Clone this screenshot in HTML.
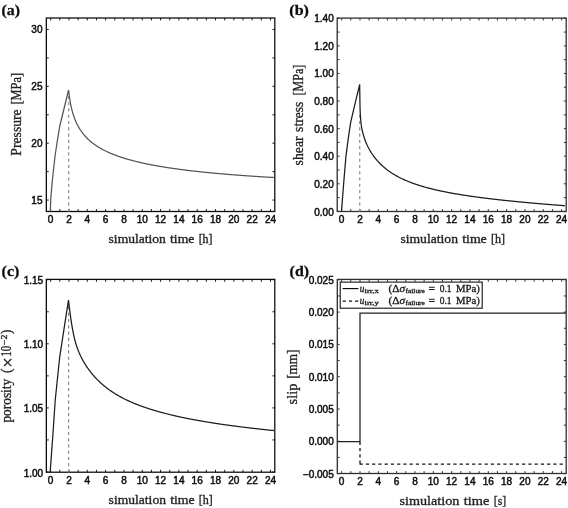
<!DOCTYPE html>
<html lang="en">
<head>
<meta charset="utf-8">
<title>Simulation results</title>
<style>
html,body{margin:0;padding:0;background:#fff}
body{width:568px;height:508px;overflow:hidden}
svg{display:block}
</style>
</head>
<body>
<svg width="568" height="508" viewBox="0 0 568 508">
<rect width="568" height="508" fill="#fff"/>
<defs><filter id="soft" x="0" y="0" width="568" height="508" filterUnits="userSpaceOnUse"><feGaussianBlur stdDeviation="0.32"/></filter></defs>
<g filter="url(#soft)">
<rect x="46.35" y="18" width="228.45" height="193.5" fill="none" stroke="#111" stroke-width="1.3"/>
<path d="M50.65,211.5v-2.4M50.65,18v2.4M59.81,211.5v-2.4M59.81,18v2.4M68.97,211.5v-2.4M68.97,18v2.4M78.13,211.5v-2.4M78.13,18v2.4M87.29,211.5v-2.4M87.29,18v2.4M96.45,211.5v-2.4M96.45,18v2.4M105.61,211.5v-2.4M105.61,18v2.4M114.77,211.5v-2.4M114.77,18v2.4M123.93,211.5v-2.4M123.93,18v2.4M133.09,211.5v-2.4M133.09,18v2.4M142.25,211.5v-2.4M142.25,18v2.4M151.41,211.5v-2.4M151.41,18v2.4M160.57,211.5v-2.4M160.57,18v2.4M169.73,211.5v-2.4M169.73,18v2.4M178.89,211.5v-2.4M178.89,18v2.4M188.05,211.5v-2.4M188.05,18v2.4M197.21,211.5v-2.4M197.21,18v2.4M206.37,211.5v-2.4M206.37,18v2.4M215.53,211.5v-2.4M215.53,18v2.4M224.69,211.5v-2.4M224.69,18v2.4M233.85,211.5v-2.4M233.85,18v2.4M243.01,211.5v-2.4M243.01,18v2.4M252.17,211.5v-2.4M252.17,18v2.4M261.33,211.5v-2.4M261.33,18v2.4M270.49,211.5v-2.4M270.49,18v2.4M46.35,200.05h2.4M274.8,200.05h-2.4M46.35,171.62h2.4M274.8,171.62h-2.4M46.35,143.2h2.4M274.8,143.2h-2.4M46.35,114.77h2.4M274.8,114.77h-2.4M46.35,86.35h2.4M274.8,86.35h-2.4M46.35,57.92h2.4M274.8,57.92h-2.4M46.35,29.5h2.4M274.8,29.5h-2.4" stroke="#111" stroke-width="0.95" fill="none"/>
<g font-family='"Liberation Sans", Arial, Helvetica, sans-serif' font-size="10.4" fill="#111" stroke="#111" stroke-width="0.5">
<text x="47.86" y="222.8" textLength="5.59" lengthAdjust="spacingAndGlyphs">0</text>
<text x="66.18" y="222.8" textLength="5.59" lengthAdjust="spacingAndGlyphs">2</text>
<text x="84.5" y="222.8" textLength="5.59" lengthAdjust="spacingAndGlyphs">4</text>
<text x="102.82" y="222.8" textLength="5.59" lengthAdjust="spacingAndGlyphs">6</text>
<text x="121.14" y="222.8" textLength="5.59" lengthAdjust="spacingAndGlyphs">8</text>
<text x="136.66" y="222.8" textLength="11.18" lengthAdjust="spacingAndGlyphs">10</text>
<text x="154.98" y="222.8" textLength="11.18" lengthAdjust="spacingAndGlyphs">12</text>
<text x="173.3" y="222.8" textLength="11.18" lengthAdjust="spacingAndGlyphs">14</text>
<text x="191.62" y="222.8" textLength="11.18" lengthAdjust="spacingAndGlyphs">16</text>
<text x="209.94" y="222.8" textLength="11.18" lengthAdjust="spacingAndGlyphs">18</text>
<text x="228.26" y="222.8" textLength="11.18" lengthAdjust="spacingAndGlyphs">20</text>
<text x="246.58" y="222.8" textLength="11.18" lengthAdjust="spacingAndGlyphs">22</text>
<text x="264.9" y="222.8" textLength="11.18" lengthAdjust="spacingAndGlyphs">24</text>
</g>
<g font-family='"Liberation Sans", Arial, Helvetica, sans-serif' font-size="10.4" fill="#111" stroke="#111" stroke-width="0.5">
<text x="31.32" y="204" textLength="11.18" lengthAdjust="spacingAndGlyphs">15</text>
<text x="31.32" y="147.15" textLength="11.18" lengthAdjust="spacingAndGlyphs">20</text>
<text x="31.32" y="90.3" textLength="11.18" lengthAdjust="spacingAndGlyphs">25</text>
<text x="31.32" y="33.45" textLength="11.18" lengthAdjust="spacingAndGlyphs">30</text>
</g>
<line x1="68.7" y1="211.9" x2="68.7" y2="94" stroke="#858585" stroke-width="1.15" stroke-dasharray="3.1 3.17"/>
<polyline points="50.4,211.5 50.41,210.5 50.43,209.5 50.45,208.5 50.47,207.5 50.5,206.5 50.53,205.5 50.56,204.5 50.6,203.5 50.64,202.5 50.68,201.5 50.7,201 50.72,200.5 50.77,199.5 50.83,198.5 50.9,197.5 50.97,196.5 51.04,195.5 51.12,194.5 51.21,193.5 51.29,192.5 51.37,191.5 51.46,190.5 51.5,190 51.54,189.5 51.63,188.5 51.72,187.5 51.81,186.5 51.9,185.5 52,184.5 52.09,183.5 52.19,182.5 52.29,181.5 52.39,180.5 52.5,179.5 52.6,178.5 52.7,177.5 52.8,176.5 52.91,175.5 53.01,174.5 53.12,173.5 53.23,172.5 53.33,171.5 53.44,170.5 53.55,169.5 53.66,168.5 53.78,167.5 53.89,166.5 54,165.5 54.11,164.5 54.23,163.5 54.34,162.5 54.46,161.5 54.57,160.5 54.69,159.5 54.8,158.5 54.92,157.5 55.04,156.5 55.16,155.5 55.28,154.5 55.4,153.5 57.6,139.2 59.9,125.5 68.6,90 68.6,90 69.1,94.36 69.6,98.01 70.1,101.14 70.6,103.89 71.1,106.33 71.6,108.53 72.1,110.53 72.6,112.36 73.1,114.06 73.6,115.62 74.1,117.09 74.6,118.45 75.1,119.74 75.6,120.95 76.1,122.1 76.6,123.19 77.1,124.22 77.6,125.2 78.1,126.14 78.6,127.04 79.1,127.9 79.6,128.73 80.1,129.52 80.6,130.29 81.1,131.02 81.6,131.73 82.1,132.42 82.6,133.08 83.1,133.72 83.6,134.35 84.1,134.95 84.6,135.53 85.1,136.1 85.6,136.65 86.1,137.18 86.6,137.7 87.1,138.21 87.6,138.71 88.1,139.19 88.6,139.66 89.1,140.11 89.6,140.56 90.1,141 90.6,141.42 91.1,141.84 91.6,142.25 92.1,142.65 92.6,143.04 93.1,143.42 93.6,143.79 94.1,144.16 94.6,144.52 95.1,144.87 95.6,145.22 96.1,145.55 96.6,145.89 97.1,146.21 97.6,146.53 98.1,146.85 98.6,147.16 99.1,147.46 99.6,147.76 100.1,148.05 100.6,148.34 101.1,148.63 101.6,148.9 102.1,149.18 102.6,149.45 103.1,149.72 103.6,149.98 104.1,150.24 104.6,150.49 105.1,150.74 105.6,150.99 106.1,151.23 106.6,151.47 107.1,151.7 107.6,151.94 108.1,152.17 108.6,152.39 109.1,152.62 109.6,152.84 110.1,153.05 110.6,153.27 111.1,153.48 111.6,153.69 112.1,153.89 112.6,154.1 113.1,154.3 113.6,154.5 114.1,154.69 114.6,154.89 115.1,155.08 115.6,155.27 116.1,155.45 116.6,155.64 117.1,155.82 117.6,156 118.1,156.18 118.6,156.35 119.1,156.53 119.6,156.7 120.1,156.87 120.6,157.04 121.1,157.21 121.6,157.37 122.1,157.53 122.6,157.69 123.1,157.85 123.6,158.01 124.1,158.17 124.6,158.32 125.1,158.47 125.6,158.63 126.1,158.78 126.6,158.92 127.1,159.07 127.6,159.22 128.1,159.36 128.6,159.5 129.1,159.64 129.6,159.78 130.1,159.92 130.6,160.06 131.1,160.19 131.6,160.33 132.1,160.46 132.6,160.59 133.1,160.73 133.6,160.86 134.1,160.98 134.6,161.11 135.1,161.24 135.6,161.36 136.1,161.49 136.6,161.61 137.1,161.73 137.6,161.85 138.1,161.97 138.6,162.09 139.1,162.21 139.6,162.32 140.1,162.44 140.6,162.56 141.1,162.67 141.6,162.78 142.1,162.89 142.6,163 143.1,163.11 143.6,163.22 144.1,163.33 144.6,163.44 145.1,163.55 145.6,163.65 146.1,163.76 146.6,163.86 147.1,163.96 147.6,164.07 148.1,164.17 148.6,164.27 149.1,164.37 149.6,164.47 150.1,164.57 150.6,164.67 151.1,164.76 151.6,164.86 152.1,164.95 152.6,165.05 153.1,165.14 153.6,165.24 154.1,165.33 154.6,165.42 155.1,165.51 155.6,165.61 156.1,165.7 156.6,165.79 157.1,165.87 157.6,165.96 158.1,166.05 158.6,166.14 159.1,166.23 159.6,166.31 160.1,166.4 160.6,166.48 161.1,166.57 161.6,166.65 162.1,166.73 162.6,166.82 163.1,166.9 163.6,166.98 164.1,167.06 164.6,167.14 165.1,167.22 165.6,167.3 166.1,167.38 166.6,167.46 167.1,167.53 167.6,167.61 168.1,167.69 168.6,167.77 169.1,167.84 169.6,167.92 170.1,167.99 170.6,168.07 171.1,168.14 171.6,168.21 172.1,168.29 172.6,168.36 173.1,168.43 173.6,168.5 174.1,168.57 174.6,168.65 175.1,168.72 175.6,168.79 176.1,168.86 176.6,168.92 177.1,168.99 177.6,169.06 178.1,169.13 178.6,169.2 179.1,169.26 179.6,169.33 180.1,169.4 180.6,169.46 181.1,169.53 181.6,169.59 182.1,169.66 182.6,169.72 183.1,169.79 183.6,169.85 184.1,169.92 184.6,169.98 185.1,170.04 185.6,170.1 186.1,170.17 186.6,170.23 187.1,170.29 187.6,170.35 188.1,170.41 188.6,170.47 189.1,170.53 189.6,170.59 190.1,170.65 190.6,170.71 191.1,170.77 191.6,170.83 192.1,170.88 192.6,170.94 193.1,171 193.6,171.06 194.1,171.11 194.6,171.17 195.1,171.23 195.6,171.28 196.1,171.34 196.6,171.39 197.1,171.45 197.6,171.5 198.1,171.56 198.6,171.61 199.1,171.67 199.6,171.72 200.1,171.77 200.6,171.83 201.1,171.88 201.6,171.93 202.1,171.98 202.6,172.04 203.1,172.09 203.6,172.14 204.1,172.19 204.6,172.24 205.1,172.29 205.6,172.34 206.1,172.39 206.6,172.44 207.1,172.49 207.6,172.54 208.1,172.59 208.6,172.64 209.1,172.69 209.6,172.74 210.1,172.79 210.6,172.83 211.1,172.88 211.6,172.93 212.1,172.98 212.6,173.03 213.1,173.07 213.6,173.12 214.1,173.17 214.6,173.21 215.1,173.26 215.6,173.3 216.1,173.35 216.6,173.4 217.1,173.44 217.6,173.49 218.1,173.53 218.6,173.58 219.1,173.62 219.6,173.66 220.1,173.71 220.6,173.75 221.1,173.8 221.6,173.84 222.1,173.88 222.6,173.93 223.1,173.97 223.6,174.01 224.1,174.05 224.6,174.1 225.1,174.14 225.6,174.18 226.1,174.22 226.6,174.26 227.1,174.3 227.6,174.35 228.1,174.39 228.6,174.43 229.1,174.47 229.6,174.51 230.1,174.55 230.6,174.59 231.1,174.63 231.6,174.67 232.1,174.71 232.6,174.75 233.1,174.79 233.6,174.83 234.1,174.87 234.6,174.9 235.1,174.94 235.6,174.98 236.1,175.02 236.6,175.06 237.1,175.1 237.6,175.13 238.1,175.17 238.6,175.21 239.1,175.25 239.6,175.28 240.1,175.32 240.6,175.36 241.1,175.39 241.6,175.43 242.1,175.47 242.6,175.5 243.1,175.54 243.6,175.58 244.1,175.61 244.6,175.65 245.1,175.68 245.6,175.72 246.1,175.75 246.6,175.79 247.1,175.82 247.6,175.86 248.1,175.89 248.6,175.93 249.1,175.96 249.6,176 250.1,176.03 250.6,176.06 251.1,176.1 251.6,176.13 252.1,176.17 252.6,176.2 253.1,176.23 253.6,176.27 254.1,176.3 254.6,176.33 255.1,176.36 255.6,176.4 256.1,176.43 256.6,176.46 257.1,176.5 257.6,176.53 258.1,176.56 258.6,176.59 259.1,176.62 259.6,176.65 260.1,176.69 260.6,176.72 261.1,176.75 261.6,176.78 262.1,176.81 262.6,176.84 263.1,176.87 263.6,176.9 264.1,176.94 264.6,176.97 265.1,177 265.6,177.03 266.1,177.06 266.6,177.09 267.1,177.12 267.6,177.15 268.1,177.18 268.6,177.21 269.1,177.24 269.6,177.27 270.1,177.29 270.6,177.32 271.1,177.35 271.6,177.38 272.1,177.41 272.6,177.44 273.1,177.47 273.6,177.5 274,177.52" fill="none" stroke="#555" stroke-width="1.25" stroke-linejoin="miter"/>
<text y="242.6" font-family='"Liberation Serif", "Times New Roman", Times, serif' font-size="12.5" fill="#222" stroke="#222" stroke-width="0.32"><tspan x="108.6" textLength="57.27" lengthAdjust="spacingAndGlyphs">simulation</tspan> <tspan x="170.05" textLength="24.41" lengthAdjust="spacingAndGlyphs">time</tspan> <tspan x="198.64" textLength="13.96" lengthAdjust="spacingAndGlyphs">[h]</tspan></text>
<g font-family='"Liberation Serif", "Times New Roman", Times, serif' font-size="13.8" fill="#222" stroke="#222" stroke-width="0.32">
<text transform="translate(20.8,155.7) rotate(-90)" textLength="46.4" lengthAdjust="spacingAndGlyphs">Pressure</text>
<text transform="translate(20.8,104.6) rotate(-90)" textLength="31.7" lengthAdjust="spacingAndGlyphs">[MPa]</text>
</g>
<text x="1.5" y="14.7" font-family='"Liberation Serif", "Times New Roman", Times, serif' font-weight="bold" font-size="14.3" fill="#111" stroke="#111" stroke-width="0.3" textLength="18.4" lengthAdjust="spacingAndGlyphs">(a)</text>
<rect x="337.2" y="18.1" width="229" height="193.4" fill="none" stroke="#2e2e2e" stroke-width="1.3"/>
<path d="M341.65,211.5v-2.4M341.65,18.1v2.4M350.81,211.5v-2.4M350.81,18.1v2.4M359.98,211.5v-2.4M359.98,18.1v2.4M369.14,211.5v-2.4M369.14,18.1v2.4M378.31,211.5v-2.4M378.31,18.1v2.4M387.47,211.5v-2.4M387.47,18.1v2.4M396.64,211.5v-2.4M396.64,18.1v2.4M405.8,211.5v-2.4M405.8,18.1v2.4M414.97,211.5v-2.4M414.97,18.1v2.4M424.13,211.5v-2.4M424.13,18.1v2.4M433.3,211.5v-2.4M433.3,18.1v2.4M442.46,211.5v-2.4M442.46,18.1v2.4M451.63,211.5v-2.4M451.63,18.1v2.4M460.79,211.5v-2.4M460.79,18.1v2.4M469.96,211.5v-2.4M469.96,18.1v2.4M479.12,211.5v-2.4M479.12,18.1v2.4M488.29,211.5v-2.4M488.29,18.1v2.4M497.45,211.5v-2.4M497.45,18.1v2.4M506.62,211.5v-2.4M506.62,18.1v2.4M515.78,211.5v-2.4M515.78,18.1v2.4M524.95,211.5v-2.4M524.95,18.1v2.4M534.12,211.5v-2.4M534.12,18.1v2.4M543.28,211.5v-2.4M543.28,18.1v2.4M552.44,211.5v-2.4M552.44,18.1v2.4M561.61,211.5v-2.4M561.61,18.1v2.4M337.2,211.4h2.4M566.2,211.4h-2.4M337.2,197.61h2.4M566.2,197.61h-2.4M337.2,183.81h2.4M566.2,183.81h-2.4M337.2,170.01h2.4M566.2,170.01h-2.4M337.2,156.22h2.4M566.2,156.22h-2.4M337.2,142.43h2.4M566.2,142.43h-2.4M337.2,128.63h2.4M566.2,128.63h-2.4M337.2,114.84h2.4M566.2,114.84h-2.4M337.2,101.04h2.4M566.2,101.04h-2.4M337.2,87.25h2.4M566.2,87.25h-2.4M337.2,73.45h2.4M566.2,73.45h-2.4M337.2,59.66h2.4M566.2,59.66h-2.4M337.2,45.86h2.4M566.2,45.86h-2.4M337.2,32.07h2.4M566.2,32.07h-2.4M337.2,18.27h2.4M566.2,18.27h-2.4" stroke="#2e2e2e" stroke-width="0.95" fill="none"/>
<g font-family='"Liberation Sans", Arial, Helvetica, sans-serif' font-size="10.4" fill="#111" stroke="#111" stroke-width="0.5">
<text x="338.86" y="222.8" textLength="5.59" lengthAdjust="spacingAndGlyphs">0</text>
<text x="357.19" y="222.8" textLength="5.59" lengthAdjust="spacingAndGlyphs">2</text>
<text x="375.52" y="222.8" textLength="5.59" lengthAdjust="spacingAndGlyphs">4</text>
<text x="393.85" y="222.8" textLength="5.59" lengthAdjust="spacingAndGlyphs">6</text>
<text x="412.18" y="222.8" textLength="5.59" lengthAdjust="spacingAndGlyphs">8</text>
<text x="427.71" y="222.8" textLength="11.18" lengthAdjust="spacingAndGlyphs">10</text>
<text x="446.04" y="222.8" textLength="11.18" lengthAdjust="spacingAndGlyphs">12</text>
<text x="464.37" y="222.8" textLength="11.18" lengthAdjust="spacingAndGlyphs">14</text>
<text x="482.7" y="222.8" textLength="11.18" lengthAdjust="spacingAndGlyphs">16</text>
<text x="501.03" y="222.8" textLength="11.18" lengthAdjust="spacingAndGlyphs">18</text>
<text x="519.36" y="222.8" textLength="11.18" lengthAdjust="spacingAndGlyphs">20</text>
<text x="537.69" y="222.8" textLength="11.18" lengthAdjust="spacingAndGlyphs">22</text>
<text x="556.02" y="222.8" textLength="11.18" lengthAdjust="spacingAndGlyphs">24</text>
</g>
<g font-family='"Liberation Sans", Arial, Helvetica, sans-serif' font-size="10.4" fill="#111" stroke="#111" stroke-width="0.5">
<text x="314.24" y="216.1" textLength="19.56" lengthAdjust="spacingAndGlyphs">0.00</text>
<text x="314.24" y="187.76" textLength="19.56" lengthAdjust="spacingAndGlyphs">0.20</text>
<text x="314.24" y="160.17" textLength="19.56" lengthAdjust="spacingAndGlyphs">0.40</text>
<text x="314.24" y="132.58" textLength="19.56" lengthAdjust="spacingAndGlyphs">0.60</text>
<text x="314.24" y="104.99" textLength="19.56" lengthAdjust="spacingAndGlyphs">0.80</text>
<text x="314.24" y="77.4" textLength="19.56" lengthAdjust="spacingAndGlyphs">1.00</text>
<text x="314.24" y="49.81" textLength="19.56" lengthAdjust="spacingAndGlyphs">1.20</text>
<text x="314.24" y="22.22" textLength="19.56" lengthAdjust="spacingAndGlyphs">1.40</text>
</g>
<line x1="359.75" y1="211.9" x2="359.75" y2="112" stroke="#858585" stroke-width="1.15" stroke-dasharray="3.1 3.17"/>
<polyline points="341.5,211.4 343.7,183 346,155.6 348.25,138.6 350.6,122.7 355.1,103.4 359.7,84.5 359.7,84.5 359.71,85.5 359.72,86.5 359.73,87.5 359.74,88.5 359.75,89.5 359.76,90.5 359.77,91.5 359.79,92.5 359.8,93.5 359.81,94.5 359.83,95.5 359.84,96.5 359.86,97.5 359.88,98.5 359.89,99.5 359.9,100 359.91,100.5 359.92,101.5 359.94,102.5 359.96,103.5 359.98,104.5 360,105.5 360.02,106.5 360.04,107.5 360.07,108.5 360.1,109.5 360.13,110.5 360.17,111.5 360.22,112.5 360.27,113.5 360.33,114.5 360.39,115.5 360.45,116.5 360.53,117.5 360.6,118.5 360.68,119.5 360.77,120.5 360.86,121.5 360.95,122.5 361,123 361.05,123.5 361.17,124.5 361.31,125.5 361.46,126.5 361.63,127.5 361.81,128.5 362,129.5 362.1,130 362.21,130.5 362.45,131.5 362.71,132.5 363,133.5 363.3,134.5 363.6,135.5 363.9,136.5 364.2,137.5 364.52,138.5 364.85,139.5 365.2,140.5 365.5,141.3 365.58,141.5 365.98,142.5 366.4,143.5 366.84,144.5 367.31,145.5 367.79,146.5 368.3,147.5 368.83,148.5 369.37,149.5 369.94,150.5 370,150.6 370.5,151.43 371,152.23 371.5,153.01 372,153.77 372.5,154.51 373,155.23 373.5,155.92 374,156.6 374.5,157.26 375,157.91 375.5,158.54 376,159.15 376.5,159.74 377,160.33 377.5,160.9 378,161.45 378.5,162 379,162.53 379.5,163.05 380,163.56 380.5,164.05 381,164.54 381.5,165.02 382,165.48 382.5,165.94 383,166.39 383.5,166.83 384,167.26 384.5,167.68 385,168.09 385.5,168.5 386,168.9 386.5,169.29 387,169.68 387.5,170.05 388,170.43 388.5,170.79 389,171.15 389.5,171.5 390,171.85 390.5,172.19 391,172.52 391.5,172.85 392,173.18 392.5,173.49 393,173.81 393.5,174.12 394,174.42 394.5,174.72 395,175.02 395.5,175.31 396,175.59 396.5,175.87 397,176.15 397.5,176.43 398,176.7 398.5,176.96 399,177.22 399.5,177.48 400,177.74 400.5,177.99 401,178.24 401.5,178.48 402,178.72 402.5,178.96 403,179.19 403.5,179.42 404,179.65 404.5,179.88 405,180.1 405.5,180.32 406,180.54 406.5,180.75 407,180.96 407.5,181.17 408,181.38 408.5,181.58 409,181.78 409.5,181.98 410,182.18 410.5,182.37 411,182.56 411.5,182.75 412,182.94 412.5,183.12 413,183.31 413.5,183.49 414,183.67 414.5,183.84 415,184.02 415.5,184.19 416,184.36 416.5,184.53 417,184.7 417.5,184.86 418,185.02 418.5,185.19 419,185.35 419.5,185.5 420,185.66 420.5,185.81 421,185.97 421.5,186.12 422,186.27 422.5,186.42 423,186.56 423.5,186.71 424,186.85 424.5,186.99 425,187.13 425.5,187.27 426,187.41 426.5,187.55 427,187.68 427.5,187.82 428,187.95 428.5,188.08 429,188.21 429.5,188.34 430,188.47 430.5,188.59 431,188.72 431.5,188.84 432,188.97 432.5,189.09 433,189.21 433.5,189.33 434,189.45 434.5,189.57 435,189.69 435.5,189.8 436,189.92 436.5,190.03 437,190.14 437.5,190.26 438,190.37 438.5,190.48 439,190.59 439.5,190.7 440,190.8 440.5,190.91 441,191.02 441.5,191.12 442,191.23 442.5,191.33 443,191.43 443.5,191.54 444,191.64 444.5,191.74 445,191.84 445.5,191.94 446,192.04 446.5,192.13 447,192.23 447.5,192.33 448,192.42 448.5,192.52 449,192.61 449.5,192.71 450,192.8 450.5,192.89 451,192.98 451.5,193.08 452,193.17 452.5,193.26 453,193.35 453.5,193.43 454,193.52 454.5,193.61 455,193.7 455.5,193.78 456,193.87 456.5,193.96 457,194.04 457.5,194.12 458,194.21 458.5,194.29 459,194.37 459.5,194.46 460,194.54 460.5,194.62 461,194.7 461.5,194.78 462,194.86 462.5,194.94 463,195.02 463.5,195.1 464,195.18 464.5,195.25 465,195.33 465.5,195.41 466,195.48 466.5,195.56 467,195.64 467.5,195.71 468,195.79 468.5,195.86 469,195.93 469.5,196.01 470,196.08 470.5,196.15 471,196.23 471.5,196.3 472,196.37 472.5,196.44 473,196.51 473.5,196.58 474,196.65 474.5,196.72 475,196.79 475.5,196.86 476,196.93 476.5,197 477,197.06 477.5,197.13 478,197.2 478.5,197.27 479,197.33 479.5,197.4 480,197.46 480.5,197.53 481,197.6 481.5,197.66 482,197.73 482.5,197.79 483,197.85 483.5,197.92 484,197.98 484.5,198.04 485,198.11 485.5,198.17 486,198.23 486.5,198.29 487,198.36 487.5,198.42 488,198.48 488.5,198.54 489,198.6 489.5,198.66 490,198.72 490.5,198.78 491,198.84 491.5,198.9 492,198.96 492.5,199.02 493,199.08 493.5,199.14 494,199.19 494.5,199.25 495,199.31 495.5,199.37 496,199.42 496.5,199.48 497,199.54 497.5,199.59 498,199.65 498.5,199.71 499,199.76 499.5,199.82 500,199.87 500.5,199.93 501,199.98 501.5,200.04 502,200.09 502.5,200.15 503,200.2 503.5,200.26 504,200.31 504.5,200.36 505,200.42 505.5,200.47 506,200.52 506.5,200.58 507,200.63 507.5,200.68 508,200.73 508.5,200.78 509,200.84 509.5,200.89 510,200.94 510.5,200.99 511,201.04 511.5,201.09 512,201.14 512.5,201.19 513,201.24 513.5,201.29 514,201.34 514.5,201.39 515,201.44 515.5,201.49 516,201.54 516.5,201.59 517,201.64 517.5,201.69 518,201.74 518.5,201.79 519,201.83 519.5,201.88 520,201.93 520.5,201.98 521,202.03 521.5,202.07 522,202.12 522.5,202.17 523,202.21 523.5,202.26 524,202.31 524.5,202.35 525,202.4 525.5,202.45 526,202.49 526.5,202.54 527,202.59 527.5,202.63 528,202.68 528.5,202.72 529,202.77 529.5,202.81 530,202.86 530.5,202.9 531,202.95 531.5,202.99 532,203.04 532.5,203.08 533,203.12 533.5,203.17 534,203.21 534.5,203.26 535,203.3 535.5,203.34 536,203.39 536.5,203.43 537,203.47 537.5,203.52 538,203.56 538.5,203.6 539,203.64 539.5,203.69 540,203.73 540.5,203.77 541,203.81 541.5,203.86 542,203.9 542.5,203.94 543,203.98 543.5,204.02 544,204.07 544.5,204.11 545,204.15 545.5,204.19 546,204.23 546.5,204.27 547,204.31 547.5,204.35 548,204.39 548.5,204.43 549,204.47 549.5,204.51 550,204.55 550.5,204.59 551,204.63 551.5,204.67 552,204.71 552.5,204.75 553,204.79 553.5,204.83 554,204.87 554.5,204.91 555,204.95 555.5,204.99 556,205.03 556.5,205.07 557,205.11 557.5,205.14 558,205.18 558.5,205.22 559,205.26 559.5,205.3 560,205.34 560.5,205.37 561,205.41 561.5,205.45 562,205.49 562.5,205.53 563,205.56 563.5,205.6 564,205.64 564.5,205.68 565,205.71" fill="none" stroke="#1c1c1c" stroke-width="1.25" stroke-linejoin="miter"/>
<text y="242.6" font-family='"Liberation Serif", "Times New Roman", Times, serif' font-size="12.5" fill="#222" stroke="#222" stroke-width="0.32"><tspan x="400.4" textLength="57.6" lengthAdjust="spacingAndGlyphs">simulation</tspan> <tspan x="462.21" textLength="24.55" lengthAdjust="spacingAndGlyphs">time</tspan> <tspan x="490.96" textLength="14.04" lengthAdjust="spacingAndGlyphs">[h]</tspan></text>
<g font-family='"Liberation Serif", "Times New Roman", Times, serif' font-size="13.8" fill="#222" stroke="#222" stroke-width="0.32">
<text transform="translate(302.5,165.4) rotate(-90)" textLength="29" lengthAdjust="spacingAndGlyphs">shear</text>
<text transform="translate(302.5,131.9) rotate(-90)" textLength="30.3" lengthAdjust="spacingAndGlyphs">stress</text>
<text transform="translate(302.5,95.4) rotate(-90)" textLength="30.7" lengthAdjust="spacingAndGlyphs">[MPa]</text>
</g>
<text x="289.3" y="14.8" font-family='"Liberation Serif", "Times New Roman", Times, serif' font-weight="bold" font-size="14.3" fill="#111" stroke="#111" stroke-width="0.3" textLength="19.6" lengthAdjust="spacingAndGlyphs">(b)</text>
<rect x="46.35" y="279.4" width="228.45" height="192.8" fill="none" stroke="#111" stroke-width="1.3"/>
<path d="M50.65,472.2v-2.4M50.65,279.4v2.4M59.81,472.2v-2.4M59.81,279.4v2.4M68.97,472.2v-2.4M68.97,279.4v2.4M78.13,472.2v-2.4M78.13,279.4v2.4M87.29,472.2v-2.4M87.29,279.4v2.4M96.45,472.2v-2.4M96.45,279.4v2.4M105.61,472.2v-2.4M105.61,279.4v2.4M114.77,472.2v-2.4M114.77,279.4v2.4M123.93,472.2v-2.4M123.93,279.4v2.4M133.09,472.2v-2.4M133.09,279.4v2.4M142.25,472.2v-2.4M142.25,279.4v2.4M151.41,472.2v-2.4M151.41,279.4v2.4M160.57,472.2v-2.4M160.57,279.4v2.4M169.73,472.2v-2.4M169.73,279.4v2.4M178.89,472.2v-2.4M178.89,279.4v2.4M188.05,472.2v-2.4M188.05,279.4v2.4M197.21,472.2v-2.4M197.21,279.4v2.4M206.37,472.2v-2.4M206.37,279.4v2.4M215.53,472.2v-2.4M215.53,279.4v2.4M224.69,472.2v-2.4M224.69,279.4v2.4M233.85,472.2v-2.4M233.85,279.4v2.4M243.01,472.2v-2.4M243.01,279.4v2.4M252.17,472.2v-2.4M252.17,279.4v2.4M261.33,472.2v-2.4M261.33,279.4v2.4M270.49,472.2v-2.4M270.49,279.4v2.4M46.35,472h2.4M274.8,472h-2.4M46.35,439.95h2.4M274.8,439.95h-2.4M46.35,407.9h2.4M274.8,407.9h-2.4M46.35,375.85h2.4M274.8,375.85h-2.4M46.35,343.8h2.4M274.8,343.8h-2.4M46.35,311.75h2.4M274.8,311.75h-2.4M46.35,279.7h2.4M274.8,279.7h-2.4" stroke="#111" stroke-width="0.95" fill="none"/>
<g font-family='"Liberation Sans", Arial, Helvetica, sans-serif' font-size="10.4" fill="#111" stroke="#111" stroke-width="0.5">
<text x="47.86" y="483.8" textLength="5.59" lengthAdjust="spacingAndGlyphs">0</text>
<text x="66.18" y="483.8" textLength="5.59" lengthAdjust="spacingAndGlyphs">2</text>
<text x="84.5" y="483.8" textLength="5.59" lengthAdjust="spacingAndGlyphs">4</text>
<text x="102.82" y="483.8" textLength="5.59" lengthAdjust="spacingAndGlyphs">6</text>
<text x="121.14" y="483.8" textLength="5.59" lengthAdjust="spacingAndGlyphs">8</text>
<text x="136.66" y="483.8" textLength="11.18" lengthAdjust="spacingAndGlyphs">10</text>
<text x="154.98" y="483.8" textLength="11.18" lengthAdjust="spacingAndGlyphs">12</text>
<text x="173.3" y="483.8" textLength="11.18" lengthAdjust="spacingAndGlyphs">14</text>
<text x="191.62" y="483.8" textLength="11.18" lengthAdjust="spacingAndGlyphs">16</text>
<text x="209.94" y="483.8" textLength="11.18" lengthAdjust="spacingAndGlyphs">18</text>
<text x="228.26" y="483.8" textLength="11.18" lengthAdjust="spacingAndGlyphs">20</text>
<text x="246.58" y="483.8" textLength="11.18" lengthAdjust="spacingAndGlyphs">22</text>
<text x="264.9" y="483.8" textLength="11.18" lengthAdjust="spacingAndGlyphs">24</text>
</g>
<g font-family='"Liberation Sans", Arial, Helvetica, sans-serif' font-size="10.4" fill="#111" stroke="#111" stroke-width="0.5">
<text x="23.64" y="476.7" textLength="19.56" lengthAdjust="spacingAndGlyphs">1.00</text>
<text x="23.64" y="411.85" textLength="19.56" lengthAdjust="spacingAndGlyphs">1.05</text>
<text x="23.64" y="347.75" textLength="19.56" lengthAdjust="spacingAndGlyphs">1.10</text>
<text x="23.64" y="283.65" textLength="19.56" lengthAdjust="spacingAndGlyphs">1.15</text>
</g>
<line x1="68.6" y1="472.6" x2="68.6" y2="303" stroke="#858585" stroke-width="1.15" stroke-dasharray="3.1 3.17"/>
<polyline points="50.15,472.2 52.75,436.5 55.25,400 57.5,378 59.8,356.3 64.15,328.2 68.5,300.1 68.5,300.1 69,304.49 69.5,308.68 70,312.61 70.5,316.3 71,319.75 71.5,322.99 72,326.04 72.5,328.91 73,331.6 73.5,334.1 74,336.42 74.5,338.55 75,340.52 75.5,342.35 76,344.05 76.5,345.64 77,347.14 77.5,348.55 78,349.89 78.5,351.17 79,352.38 79.5,353.55 80,354.67 80.5,355.74 81,356.77 81.5,357.77 82,358.74 82.5,359.68 83,360.58 83.5,361.47 84,362.32 84.5,363.16 85,363.98 85.5,364.77 86,365.55 86.5,366.31 87,367.05 87.5,367.78 88,368.5 88.5,369.2 89,369.89 89.5,370.56 90,371.22 90.5,371.87 91,372.51 91.5,373.13 92,373.75 92.5,374.35 93,374.94 93.5,375.52 94,376.09 94.5,376.66 95,377.21 95.5,377.75 96,378.28 96.5,378.81 97,379.33 97.5,379.83 98,380.33 98.5,380.82 99,381.31 99.5,381.79 100,382.26 100.5,382.72 101,383.17 101.5,383.62 102,384.06 102.5,384.5 103,384.93 103.5,385.35 104,385.77 104.5,386.18 105,386.58 105.5,386.98 106,387.38 106.5,387.77 107,388.15 107.5,388.53 108,388.9 108.5,389.27 109,389.64 109.5,389.99 110,390.35 110.5,390.7 111,391.04 111.5,391.38 112,391.72 112.5,392.05 113,392.38 113.5,392.71 114,393.03 114.5,393.34 115,393.66 115.5,393.96 116,394.27 116.5,394.57 117,394.87 117.5,395.16 118,395.45 118.5,395.74 119,396.03 119.5,396.31 120,396.59 120.5,396.86 121,397.13 121.5,397.4 122,397.67 122.5,397.93 123,398.19 123.5,398.45 124,398.7 124.5,398.96 125,399.21 125.5,399.45 126,399.7 126.5,399.94 127,400.18 127.5,400.41 128,400.65 128.5,400.88 129,401.11 129.5,401.34 130,401.56 130.5,401.78 131,402 131.5,402.22 132,402.44 132.5,402.65 133,402.87 133.5,403.08 134,403.28 134.5,403.49 135,403.7 135.5,403.9 136,404.1 136.5,404.3 137,404.5 137.5,404.69 138,404.88 138.5,405.08 139,405.27 139.5,405.46 140,405.64 140.5,405.83 141,406.01 141.5,406.2 142,406.38 142.5,406.56 143,406.73 143.5,406.91 144,407.09 144.5,407.26 145,407.43 145.5,407.6 146,407.77 146.5,407.94 147,408.11 147.5,408.27 148,408.44 148.5,408.6 149,408.76 149.5,408.92 150,409.08 150.5,409.24 151,409.4 151.5,409.55 152,409.71 152.5,409.86 153,410.02 153.5,410.17 154,410.32 154.5,410.47 155,410.62 155.5,410.76 156,410.91 156.5,411.05 157,411.2 157.5,411.34 158,411.48 158.5,411.62 159,411.76 159.5,411.9 160,412.04 160.5,412.18 161,412.32 161.5,412.45 162,412.59 162.5,412.72 163,412.85 163.5,412.98 164,413.12 164.5,413.25 165,413.38 165.5,413.5 166,413.63 166.5,413.76 167,413.89 167.5,414.01 168,414.14 168.5,414.26 169,414.38 169.5,414.51 170,414.63 170.5,414.75 171,414.87 171.5,414.99 172,415.11 172.5,415.22 173,415.34 173.5,415.46 174,415.57 174.5,415.69 175,415.8 175.5,415.92 176,416.03 176.5,416.14 177,416.26 177.5,416.37 178,416.48 178.5,416.59 179,416.7 179.5,416.81 180,416.92 180.5,417.02 181,417.13 181.5,417.24 182,417.34 182.5,417.45 183,417.55 183.5,417.66 184,417.76 184.5,417.86 185,417.97 185.5,418.07 186,418.17 186.5,418.27 187,418.37 187.5,418.47 188,418.57 188.5,418.67 189,418.77 189.5,418.86 190,418.96 190.5,419.06 191,419.16 191.5,419.25 192,419.35 192.5,419.44 193,419.54 193.5,419.63 194,419.72 194.5,419.82 195,419.91 195.5,420 196,420.09 196.5,420.18 197,420.27 197.5,420.36 198,420.45 198.5,420.54 199,420.63 199.5,420.72 200,420.81 200.5,420.9 201,420.98 201.5,421.07 202,421.16 202.5,421.24 203,421.33 203.5,421.42 204,421.5 204.5,421.58 205,421.67 205.5,421.75 206,421.84 206.5,421.92 207,422 207.5,422.08 208,422.17 208.5,422.25 209,422.33 209.5,422.41 210,422.49 210.5,422.57 211,422.65 211.5,422.73 212,422.81 212.5,422.89 213,422.97 213.5,423.04 214,423.12 214.5,423.2 215,423.28 215.5,423.35 216,423.43 216.5,423.5 217,423.58 217.5,423.66 218,423.73 218.5,423.81 219,423.88 219.5,423.95 220,424.03 220.5,424.1 221,424.17 221.5,424.25 222,424.32 222.5,424.39 223,424.46 223.5,424.54 224,424.61 224.5,424.68 225,424.75 225.5,424.82 226,424.89 226.5,424.96 227,425.03 227.5,425.1 228,425.17 228.5,425.24 229,425.31 229.5,425.38 230,425.44 230.5,425.51 231,425.58 231.5,425.65 232,425.71 232.5,425.78 233,425.85 233.5,425.91 234,425.98 234.5,426.05 235,426.11 235.5,426.18 236,426.24 236.5,426.31 237,426.37 237.5,426.44 238,426.5 238.5,426.56 239,426.63 239.5,426.69 240,426.75 240.5,426.82 241,426.88 241.5,426.94 242,427 242.5,427.07 243,427.13 243.5,427.19 244,427.25 244.5,427.31 245,427.37 245.5,427.43 246,427.49 246.5,427.55 247,427.61 247.5,427.67 248,427.73 248.5,427.79 249,427.85 249.5,427.91 250,427.97 250.5,428.03 251,428.09 251.5,428.15 252,428.2 252.5,428.26 253,428.32 253.5,428.38 254,428.43 254.5,428.49 255,428.55 255.5,428.61 256,428.66 256.5,428.72 257,428.77 257.5,428.83 258,428.89 258.5,428.94 259,429 259.5,429.05 260,429.11 260.5,429.16 261,429.22 261.5,429.27 262,429.33 262.5,429.38 263,429.43 263.5,429.49 264,429.54 264.5,429.59 265,429.65 265.5,429.7 266,429.75 266.5,429.81 267,429.86 267.5,429.91 268,429.96 268.5,430.01 269,430.07 269.5,430.12 270,430.17 270.5,430.22 271,430.27 271.5,430.32 272,430.37 272.5,430.43 273,430.48 273.5,430.53 274,430.58" fill="none" stroke="#1c1c1c" stroke-width="1.25" stroke-linejoin="miter"/>
<text y="503.6" font-family='"Liberation Serif", "Times New Roman", Times, serif' font-size="12.5" fill="#222" stroke="#222" stroke-width="0.32"><tspan x="108.6" textLength="57.38" lengthAdjust="spacingAndGlyphs">simulation</tspan> <tspan x="170.17" textLength="24.45" lengthAdjust="spacingAndGlyphs">time</tspan> <tspan x="198.81" textLength="13.99" lengthAdjust="spacingAndGlyphs">[h]</tspan></text>
<g font-family='"Liberation Serif", "Times New Roman", Times, serif' font-size="13.8" fill="#222" stroke="#222" stroke-width="0.32">
<text transform="translate(11.4,422.6) rotate(-90)" textLength="43.8" lengthAdjust="spacingAndGlyphs">porosity</text>
<text transform="translate(11.4,372.9) rotate(-90)" textLength="4.5" lengthAdjust="spacingAndGlyphs">(</text>
<text transform="translate(13.8,367.7) rotate(-90)" font-size="18" textLength="10.4" lengthAdjust="spacingAndGlyphs">×</text>
<text transform="translate(11.4,356.6) rotate(-90)" textLength="10.8" lengthAdjust="spacingAndGlyphs">10</text>
<text transform="translate(6.9,345.2) rotate(-90)" font-size="8.2" textLength="10.6" lengthAdjust="spacingAndGlyphs">−2</text>
<text transform="translate(11.4,334) rotate(-90)" textLength="4.4" lengthAdjust="spacingAndGlyphs">)</text>
</g>
<text x="1.6" y="275.9" font-family='"Liberation Serif", "Times New Roman", Times, serif' font-weight="bold" font-size="14.3" fill="#111" stroke="#111" stroke-width="0.3" textLength="17.8" lengthAdjust="spacingAndGlyphs">(c)</text>
<rect x="337.3" y="279.4" width="228.9" height="194.1" fill="none" stroke="#2e2e2e" stroke-width="1.3"/>
<path d="M341.65,473.5v-2.4M341.65,279.4v2.4M350.81,473.5v-2.4M350.81,279.4v2.4M359.98,473.5v-2.4M359.98,279.4v2.4M369.14,473.5v-2.4M369.14,279.4v2.4M378.31,473.5v-2.4M378.31,279.4v2.4M387.47,473.5v-2.4M387.47,279.4v2.4M396.64,473.5v-2.4M396.64,279.4v2.4M405.8,473.5v-2.4M405.8,279.4v2.4M414.97,473.5v-2.4M414.97,279.4v2.4M424.13,473.5v-2.4M424.13,279.4v2.4M433.3,473.5v-2.4M433.3,279.4v2.4M442.46,473.5v-2.4M442.46,279.4v2.4M451.63,473.5v-2.4M451.63,279.4v2.4M460.79,473.5v-2.4M460.79,279.4v2.4M469.96,473.5v-2.4M469.96,279.4v2.4M479.12,473.5v-2.4M479.12,279.4v2.4M488.29,473.5v-2.4M488.29,279.4v2.4M497.45,473.5v-2.4M497.45,279.4v2.4M506.62,473.5v-2.4M506.62,279.4v2.4M515.78,473.5v-2.4M515.78,279.4v2.4M524.95,473.5v-2.4M524.95,279.4v2.4M534.12,473.5v-2.4M534.12,279.4v2.4M543.28,473.5v-2.4M543.28,279.4v2.4M552.44,473.5v-2.4M552.44,279.4v2.4M561.61,473.5v-2.4M561.61,279.4v2.4M337.3,473.6h2.4M566.2,473.6h-2.4M337.3,457.45h2.4M566.2,457.45h-2.4M337.3,441.3h2.4M566.2,441.3h-2.4M337.3,425.15h2.4M566.2,425.15h-2.4M337.3,409h2.4M566.2,409h-2.4M337.3,392.85h2.4M566.2,392.85h-2.4M337.3,376.7h2.4M566.2,376.7h-2.4M337.3,360.55h2.4M566.2,360.55h-2.4M337.3,344.4h2.4M566.2,344.4h-2.4M337.3,328.25h2.4M566.2,328.25h-2.4M337.3,312.1h2.4M566.2,312.1h-2.4M337.3,295.95h2.4M566.2,295.95h-2.4M337.3,279.8h2.4M566.2,279.8h-2.4" stroke="#2e2e2e" stroke-width="0.95" fill="none"/>
<g font-family='"Liberation Sans", Arial, Helvetica, sans-serif' font-size="10.4" fill="#111" stroke="#111" stroke-width="0.5">
<text x="338.86" y="485.1" textLength="5.59" lengthAdjust="spacingAndGlyphs">0</text>
<text x="357.19" y="485.1" textLength="5.59" lengthAdjust="spacingAndGlyphs">2</text>
<text x="375.52" y="485.1" textLength="5.59" lengthAdjust="spacingAndGlyphs">4</text>
<text x="393.85" y="485.1" textLength="5.59" lengthAdjust="spacingAndGlyphs">6</text>
<text x="412.18" y="485.1" textLength="5.59" lengthAdjust="spacingAndGlyphs">8</text>
<text x="427.71" y="485.1" textLength="11.18" lengthAdjust="spacingAndGlyphs">10</text>
<text x="446.04" y="485.1" textLength="11.18" lengthAdjust="spacingAndGlyphs">12</text>
<text x="464.37" y="485.1" textLength="11.18" lengthAdjust="spacingAndGlyphs">14</text>
<text x="482.7" y="485.1" textLength="11.18" lengthAdjust="spacingAndGlyphs">16</text>
<text x="501.03" y="485.1" textLength="11.18" lengthAdjust="spacingAndGlyphs">18</text>
<text x="519.36" y="485.1" textLength="11.18" lengthAdjust="spacingAndGlyphs">20</text>
<text x="537.69" y="485.1" textLength="11.18" lengthAdjust="spacingAndGlyphs">22</text>
<text x="556.02" y="485.1" textLength="11.18" lengthAdjust="spacingAndGlyphs">24</text>
</g>
<g font-family='"Liberation Sans", Arial, Helvetica, sans-serif' font-size="10.4" fill="#111" stroke="#111" stroke-width="0.5">
<text x="302.79" y="478.3" textLength="31.01" lengthAdjust="spacingAndGlyphs">−0.005</text>
<text x="308.65" y="445.25" textLength="25.15" lengthAdjust="spacingAndGlyphs">0.000</text>
<text x="308.65" y="412.95" textLength="25.15" lengthAdjust="spacingAndGlyphs">0.005</text>
<text x="308.65" y="380.65" textLength="25.15" lengthAdjust="spacingAndGlyphs">0.010</text>
<text x="308.65" y="348.35" textLength="25.15" lengthAdjust="spacingAndGlyphs">0.015</text>
<text x="308.65" y="316.05" textLength="25.15" lengthAdjust="spacingAndGlyphs">0.020</text>
<text x="308.65" y="283.75" textLength="25.15" lengthAdjust="spacingAndGlyphs">0.025</text>
</g>
<polyline points="337.3,441.5 360,441.5 360,313 565.8,313" fill="none" stroke="#222" stroke-width="1.25"/>
<path d="M360,441.8V464.5M359.6,464.1H563.6" fill="none" stroke="#111" stroke-width="1.3" stroke-dasharray="3.2 3.05"/>
<rect x="340.2" y="282.1" width="142.0" height="26.1" fill="#fff" stroke="#111" stroke-width="1.1"/>
<line x1="342.6" y1="288.6" x2="358.4" y2="288.6" stroke="#111" stroke-width="1.15"/>
<line x1="342.7" y1="301.0" x2="358.5" y2="301.0" stroke="#111" stroke-width="1.25" stroke-dasharray="3.2 3.0"/>
<g font-family='"Liberation Serif", "Times New Roman", Times, serif' fill="#1a1a1a" stroke="#1a1a1a" stroke-width="0.3">
<text x="359.7" y="291.6" font-size="10.2" font-style="italic" textLength="4.6" lengthAdjust="spacingAndGlyphs">u</text>
<text x="364.6" y="292.9" font-size="6.8" textLength="14.2" lengthAdjust="spacingAndGlyphs">irr,x</text>
<text x="388.6" y="291.6" font-size="9.8" textLength="16.6" lengthAdjust="spacingAndGlyphs">(Δ<tspan font-style="italic">σ</tspan></text>
<text x="405.5" y="292.8" font-size="6.8" textLength="19.4" lengthAdjust="spacingAndGlyphs">failure</text>
<text x="428.6" y="291.6" font-size="9.8" textLength="6.6" lengthAdjust="spacingAndGlyphs">=</text>
<text x="439.8" y="291.6" font-size="9.8" textLength="11.8" lengthAdjust="spacingAndGlyphs">0.1</text>
<text x="456.1" y="291.6" font-size="9.8" textLength="23.8" lengthAdjust="spacingAndGlyphs">MPa)</text>
</g>
<g font-family='"Liberation Serif", "Times New Roman", Times, serif' fill="#1a1a1a" stroke="#1a1a1a" stroke-width="0.3">
<text x="359.7" y="303.6" font-size="10.2" font-style="italic" textLength="4.6" lengthAdjust="spacingAndGlyphs">u</text>
<text x="364.6" y="304.9" font-size="6.8" textLength="14.2" lengthAdjust="spacingAndGlyphs">irr,y</text>
<text x="388.6" y="303.6" font-size="9.8" textLength="16.6" lengthAdjust="spacingAndGlyphs">(Δ<tspan font-style="italic">σ</tspan></text>
<text x="405.5" y="304.8" font-size="6.8" textLength="19.4" lengthAdjust="spacingAndGlyphs">failure</text>
<text x="428.6" y="303.6" font-size="9.8" textLength="6.6" lengthAdjust="spacingAndGlyphs">=</text>
<text x="439.8" y="303.6" font-size="9.8" textLength="11.8" lengthAdjust="spacingAndGlyphs">0.1</text>
<text x="456.1" y="303.6" font-size="9.8" textLength="23.8" lengthAdjust="spacingAndGlyphs">MPa)</text>
</g>
<text y="504.6" font-family='"Liberation Serif", "Times New Roman", Times, serif' font-size="13.3" fill="#222" stroke="#222" stroke-width="0.32"><tspan x="399.5" textLength="59.93" lengthAdjust="spacingAndGlyphs">simulation</tspan> <tspan x="463.81" textLength="25.54" lengthAdjust="spacingAndGlyphs">time</tspan> <tspan x="493.72" textLength="12.48" lengthAdjust="spacingAndGlyphs">[s]</tspan></text>
<g font-family='"Liberation Serif", "Times New Roman", Times, serif' font-size="15" fill="#222" stroke="#222" stroke-width="0.32">
<text transform="translate(297.4,404.4) rotate(-90)" textLength="20.8" lengthAdjust="spacingAndGlyphs">slip</text>
<text transform="translate(297.4,378.8) rotate(-90)" textLength="29.3" lengthAdjust="spacingAndGlyphs">[mm]</text>
</g>
<text x="289.6" y="275.8" font-family='"Liberation Serif", "Times New Roman", Times, serif' font-weight="bold" font-size="14.3" fill="#111" stroke="#111" stroke-width="0.3" textLength="19.4" lengthAdjust="spacingAndGlyphs">(d)</text>
</g>
</svg>
</body>
</html>
